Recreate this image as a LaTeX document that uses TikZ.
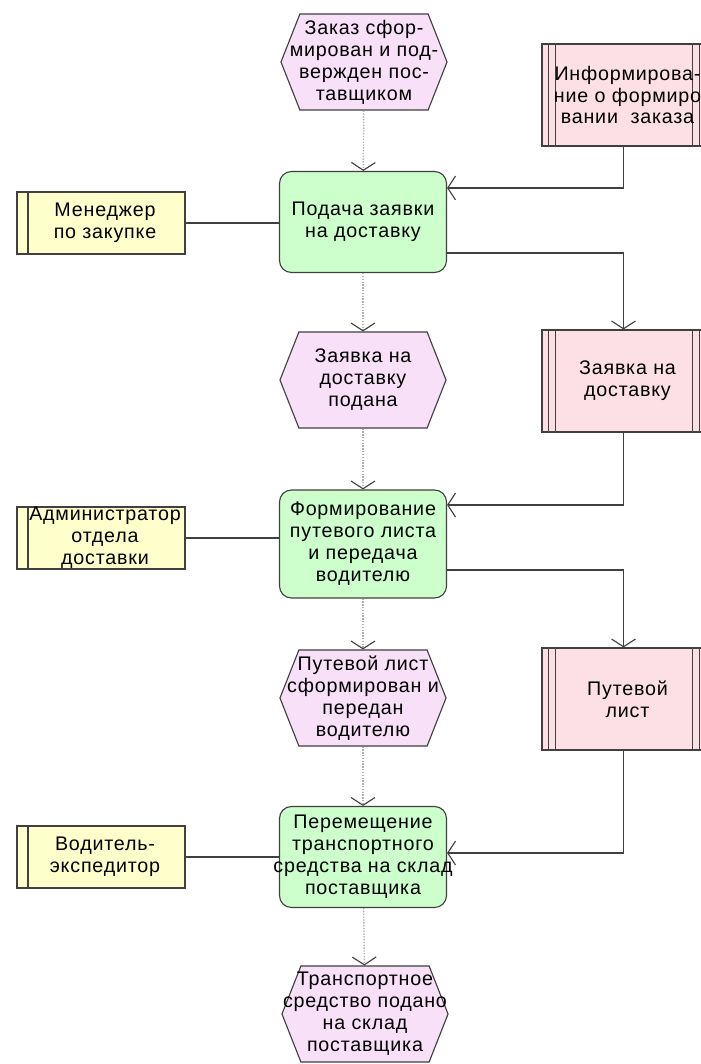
\documentclass[tikz,border=0pt]{standalone}
\usepackage{fontspec}
\setmainfont[LetterSpace=4]{Liberation Sans}
\usetikzlibrary{shapes.symbols,arrows.meta}
\definecolor{evfill}{HTML}{F8E0F8}
\definecolor{fnfill}{HTML}{CCFFCC}
\definecolor{orgfill}{HTML}{FFFFCC}
\definecolor{inffill}{HTML}{FDE0E6}
\definecolor{edgegray}{HTML}{404040}
\definecolor{flowgray}{HTML}{B0B0B0}
\tikzset{
  every node/.style={font=\fontsize{14}{15.6}\selectfont, align=center, inner sep=0pt},
  evbox/.style={draw=edgegray, line width=0.8pt, signal, signal to=east and west, signal pointer angle=137, fill=evfill,
    minimum width=4.15cm, minimum height=2.4cm},
  fnbox/.style={draw=edgegray, line width=0.8pt, rounded corners=0.3cm, fill=fnfill, minimum width=4.175cm, minimum height=2.525cm},
  orgbox/.style={draw=edgegray, line width=0.8pt, fill=orgfill, minimum width=4.2cm, minimum height=1.55cm,
    path picture={\draw[edgegray, line width=0.8pt]
      ([xshift=0.275cm]path picture bounding box.north west) -- ([xshift=0.275cm]path picture bounding box.south west);}},
  infbox/.style={draw=edgegray, line width=0.8pt, fill=inffill, minimum width=4.075cm, minimum height=2.55cm,
    path picture={\foreach \d in {0.15,0.325}{
      \draw[edgegray, line width=0.6pt]
        ([xshift=\d cm]path picture bounding box.north west) -- ([xshift=\d cm]path picture bounding box.south west)
        ([xshift=-\d cm]path picture bounding box.north east) -- ([xshift=-\d cm]path picture bounding box.south east);}}},
  flow/.style={draw=flowgray, line width=1pt, dash pattern=on 1pt off 1pt,
    -{Straight Barb[length=5.5pt,width=17pt,line width=0.8pt,color=edgegray]}},
  link/.style={draw=edgegray, line width=0.8pt, -{Straight Barb[length=5.5pt,width=17pt]}}
}
\begin{document}
\begin{tikzpicture}[x=0.025cm,y=-0.025cm]
  \fill[white] (0,0) rectangle (701,1064);
  \useasboundingbox (0,0) rectangle (701,1064);
  \node[evbox, label=center:{Заказ сфор-\\мирован и под-\\вержден пос-\\тавщиком}] (ev1) at (364,62) {};
  \node[fnbox, label=center:{Подача заявки\\на доставку}] (fn1) at (363,222) {};
  \node[orgbox, label={[xshift=0.1cm]center:{Менеджер\\по закупке}}] (org1) at (101,223) {};
  \node[infbox, label={[xshift=0.1cm]center:{Информирова-\\ние о формиро\\вании~~заказа}}] (inf1) at (623.5,95) {};
  \node[evbox, label=center:{Заявка на\\доставку\\подана}] (ev2) at (363,380) {};
  \node[infbox, label={[xshift=0.1cm]center:{Заявка на\\доставку}}] (inf2) at (623.5,381) {};
  \node[fnbox, minimum height=2.7cm, label=center:{Формирование\\путевого листа\\и передача\\водителю}] (fn2) at (363,544) {};
  \node[orgbox, label={[xshift=0.1cm]center:{Администратор\\отдела\\доставки}}] (org2) at (101,538) {};
  \node[evbox, label=center:{Путевой лист\\сформирован и\\передан\\водителю}] (ev3) at (363,698) {};
  \node[infbox, label={[xshift=0.1cm]center:{Путевой\\лист}}] (inf3) at (623.5,699) {};
  \node[fnbox, label=center:{Перемещение\\транспортного\\средства на склад\\поставщика}] (fn3) at (363,857) {};
  \node[orgbox, label={[xshift=0.1cm]center:{Водитель-\\экспедитор}}] (org3) at (101,857) {};
  \node[evbox, label=center:{Транспортное\\средство подано\\на склад\\поставщика}] (ev4) at (365,1014) {};
  \draw[flow] (ev1) -- (fn1);
  \draw[flow] (fn1) -- (ev2);
  \draw[flow] (ev2) -- (fn2);
  \draw[flow] (fn2) -- (ev3);
  \draw[flow] (ev3) -- (fn3);
  \draw[flow] (fn3) -- (ev4);
  \draw[edgegray, line width=0.8pt] (org1.east) -- (org1.east -| fn1.west);
  \draw[edgegray, line width=0.8pt] (org2.east) -- (org2.east -| fn2.west);
  \draw[edgegray, line width=0.8pt] (org3.east) -- (org3.east -| fn3.west);
  \draw[link] (inf1.south) |- ([yshift=0.85cm]fn1.east);
  \draw[link] ([yshift=-0.775cm]fn1.east) -| (inf2.north);
  \draw[link] (inf2.south) |- ([yshift=0.975cm]fn2.east);
  \draw[link] ([yshift=-0.65cm]fn2.east) -| (inf3.north);
  \draw[link] (inf3.south) |- ([yshift=0.1cm]fn3.east);
\end{tikzpicture}
\end{document}
